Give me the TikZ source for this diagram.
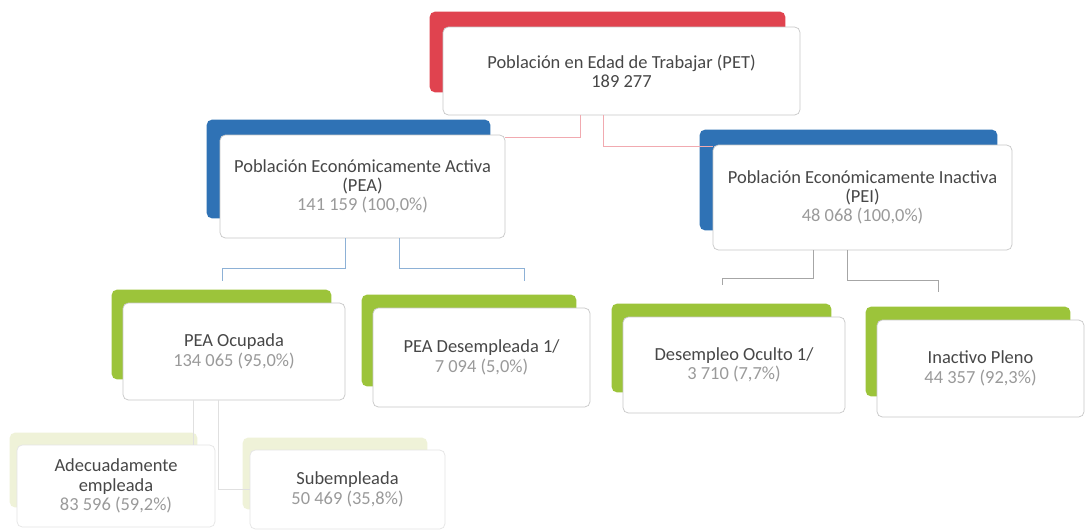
\documentclass[tikz,border=0pt]{standalone}
\usepackage{fontspec}
\setmainfont{Carlito}
\usetikzlibrary{calc,backgrounds}
\definecolor{petred}{HTML}{E0434F}
\definecolor{peablue}{HTML}{2F72B5}
\definecolor{leafgreen}{HTML}{9CC43A}
\definecolor{palegreen}{HTML}{EFF2D8}
\definecolor{titlegray}{HTML}{474747}
\definecolor{numgray}{HTML}{9A9A9A}
\newcommand{\cifra}[1]{{\color{numgray}#1}}
\tikzset{
  card/.style  ={draw=black!22,fill=white,rounded corners=3pt,align=center,
                 font=\fontsize{10.5}{11}\selectfont,text=titlegray,inner sep=2pt},
  cardlow/.style={card,draw=black!10},
  tab/.style   ={rounded corners=3pt},
  linkR/.style ={draw=petred!45,line width=0.5pt},
  linkB/.style ={draw=peablue!55,line width=0.5pt},
  linkG/.style ={draw=black!35,line width=0.5pt},
  linkF/.style ={draw=black!12,line width=0.5pt},
}

\begin{document}
\begin{tikzpicture}[x=0.02cm,y=-0.02cm]
  \useasboundingbox (0,0) rectangle (1087,531);

  % first level
  \node[card,minimum width=7.14cm,minimum height=1.76cm] (pet) at (621.5,71)
    {Población en Edad de Trabajar (PET)\\189 277};

  % second level
  \node[card,minimum width=5.7cm,minimum height=2.06cm] (pea) at (362.5,186.5)
    {Población Económicamente Activa\\(PEA)\\\cifra{141 159 (100,0\%)}};
  \node[card,minimum width=5.98cm,minimum height=2.1cm] (pei) at (862.5,197.5)
    {Población Económicamente Inactiva\\(PEI)\\\cifra{48 068 (100,0\%)}};

  % third level
  \node[card,minimum width=4.44cm,minimum height=1.94cm] (ocu) at (234,351.5)
    {PEA Ocupada\\\cifra{134 065 (95,0\%)}};
  \node[card,minimum width=4.34cm,minimum height=1.98cm] (des) at (481.5,357.5)
    {PEA Desempleada 1/\\\cifra{7 094 (5,0\%)}};
  \node[card,minimum width=4.44cm,minimum height=1.92cm] (ocl) at (734,365)
    {Desempleo Oculto 1/\\\cifra{3 710 (7,7\%)}};
  \node[card,minimum width=4.14cm,minimum height=1.94cm] (ina) at (980.5,368.5)
    {Inactivo Pleno\\\cifra{44 357 (92,3\%)}};

  % fourth level
  \node[cardlow,minimum width=3.96cm,minimum height=1.64cm] (ade) at (116,486)
    {Adecuadamente\\empleada\\\cifra{83 596 (59,2\%)}};
  \node[cardlow,minimum width=3.9cm,minimum height=1.58cm] (sub) at (347.5,489.5)
    {Subempleada\\\cifra{50 469 (35,8\%)}};

  % coloured tabs behind the cards
  \begin{scope}[on background layer]
    \fill[white] (0,0) rectangle (1087,531);
    \fill[petred,tab] ($(pet.north west)+(-13,-15)$) rectangle ($(pet.south east)+(-15,-23)$);
    \foreach \n in {pea,pei}
      \fill[peablue,tab] ($(\n.north west)+(-13,-15)$) rectangle ($(\n.south east)+(-15,-20)$);
    \foreach \n in {ocu,des,ocl,ina}
      \fill[leafgreen,tab] ($(\n.north west)+(-11,-13)$) rectangle ($(\n.south east)+(-14,-21)$);
    \foreach \n in {ade,sub}
      \fill[palegreen,tab] ($(\n.north west)+(-7,-12)$) rectangle ($(\n.south east)+(-18,-20)$);
  \end{scope}

  % connectors
  \draw[linkR] ($(pet.south)+(-41,0)$) |- ($(pea.north east)+(0,3)$);
  \draw[linkR] ($(pet.south)+(-18,0)$) |- ($(pei.north west)+(0,2)$);

  \draw[linkB] ($(pea.south)+(-17,0)$) -- ++(0,30) -| ($(ocu.north)+(-12,-22)$);
  \draw[linkB] ($(pea.south)+(37,0)$) -- ++(0,30) -| ($(des.north)+(43,-27)$);

  \draw[linkG] ($(pei.south)+(-49,0)$) -- ++(0,28) -| ($(ocl.north)+(-12,-32)$);
  \draw[linkG] ($(pei.south)+(-15,0)$) -- ++(0,30) -| ($(ina.north)+(-42,-28)$);

  \draw[linkF] ($(ocu.south)+(-41,0)$) -- ($(ade.north)+(77,0)$);
  \draw[linkF] ($(ocu.south)+(-16,0)$) |- (sub.west);
\end{tikzpicture}
\end{document}
